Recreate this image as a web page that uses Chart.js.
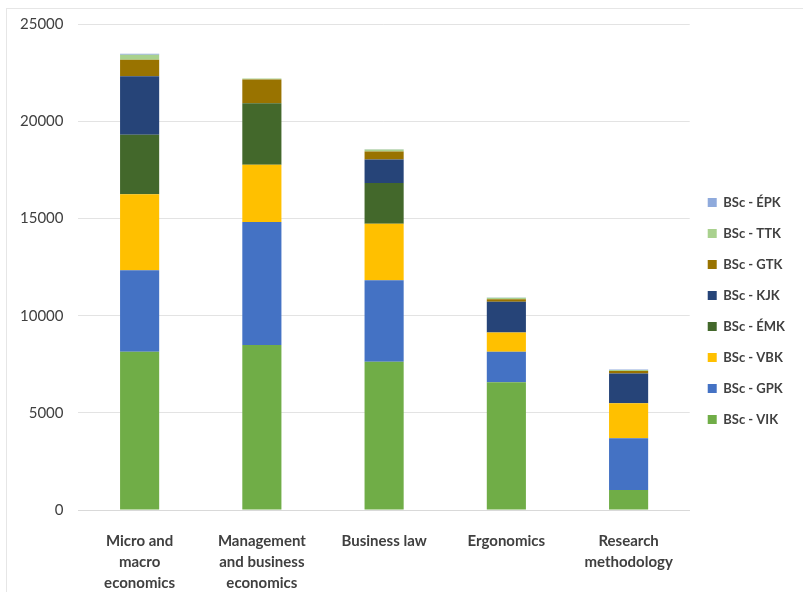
<!DOCTYPE html>
<html>
<head>
<meta charset="utf-8">
<script src="https://cdn.jsdelivr.net/npm/chart.js@4"></script>
<style>
	body { margin: 0; background: #fff; }
	#wrap { position: relative; width: 803px; height: 592px; }
	#frame { position: absolute; left: 6px; top: 8px; right: 0; bottom: 0; border-left: 1px solid #e6e6e6; border-top: 1px solid #e6e6e6; pointer-events: none; }
</style>
</head>
<body>
<div id="wrap">
	<canvas id="chartbar" width="803" height="592"></canvas>
	<div id="frame"></div>
</div>
<script>
var categories = [
	["Micro and", "macro", "economics"],
	["Management", "and business", "economics"],
	["Business law"],
	["Ergonomics"],
	["Research", "methodology"]
];
var seriesNames = ["BSc - VIK", "BSc - GPK", "BSc - VBK", "BSc - ÉMK", "BSc - KJK", "BSc - GTK", "BSc - TTK", "BSc - ÉPK"];
var seriesColors = ["#70AD47", "#4472C4", "#FFC000", "#43682B", "#264478", "#997300", "#A9D18E", "#8FAADC"];

var vik = [8150, 8490, 7630, 6570, 1040];
var gpk = [4190, 6330, 4190, 1580, 2650];
var vbk = [3900, 2940, 2910, 990, 1800];
var emk = [3065, 3170, 2090, 0, 0];
var kjk = [3010, 0, 1210, 1575, 1540];
var gtk = [850, 1210, 410, 130, 120];
var ttk = [250, 60, 100, 70, 60];
var epk = [60, 0, 20, 20, 20];

var yTicks = [0, 5000, 10000, 15000, 20000, 25000];

function CreateChart() {
	var values = [vik, gpk, vbk, emk, kjk, gtk, ttk, epk];
	var datasets = [];
	for (var i = 0; i < seriesNames.length; i++) {
		datasets.push({
			label: seriesNames[i],
			data: values[i],
			backgroundColor: seriesColors[i],
			borderWidth: 0,
			barPercentage: 0.64,
			categoryPercentage: 0.5
		});
	}
	var config = {
		type: "bar",
		data: {
			labels: categories,
			datasets: datasets
		},
		options: {
			responsive: false,
			animation: false,
			layout: { padding: { top: 16, left: 5, right: 8, bottom: -14 } },
			plugins: {
				tooltip: { enabled: false },
				legend: {
					position: "right",
					reverse: true,
					labels: {
						boxWidth: 9,
						boxHeight: 9,
						padding: 18,
						color: "#404040",
						font: { family: "Lato", size: 13, weight: "bold" }
					}
				}
			},
			scales: {
				x: {
					stacked: true,
					grid: { display: false },
					border: { color: "#d9d9d9" },
					ticks: {
						color: "#404040",
						maxRotation: 0,
						autoSkip: false,
						padding: 12,
						font: { family: "Lato", size: 15, weight: "bold", lineHeight: 1.42 }
					}
				},
				y: {
					stacked: true,
					min: 0,
					max: 25000,
					afterBuildTicks: function (axis) {
						axis.ticks = yTicks.map(function (v) { return { value: v }; });
					},
					grid: { color: "#e3e3e3", drawTicks: false },
					border: { display: false },
					ticks: {
						color: "#404040",
						padding: 15,
						font: { family: "Lato", size: 15 },
						callback: function (v) { return String(v); }
					}
				}
			}
		}
	};
	var ctx = document.getElementById("chartbar").getContext("2d");
	window.chartbar = new Chart(ctx, config);
}
CreateChart();
</script>
</body>
</html>
